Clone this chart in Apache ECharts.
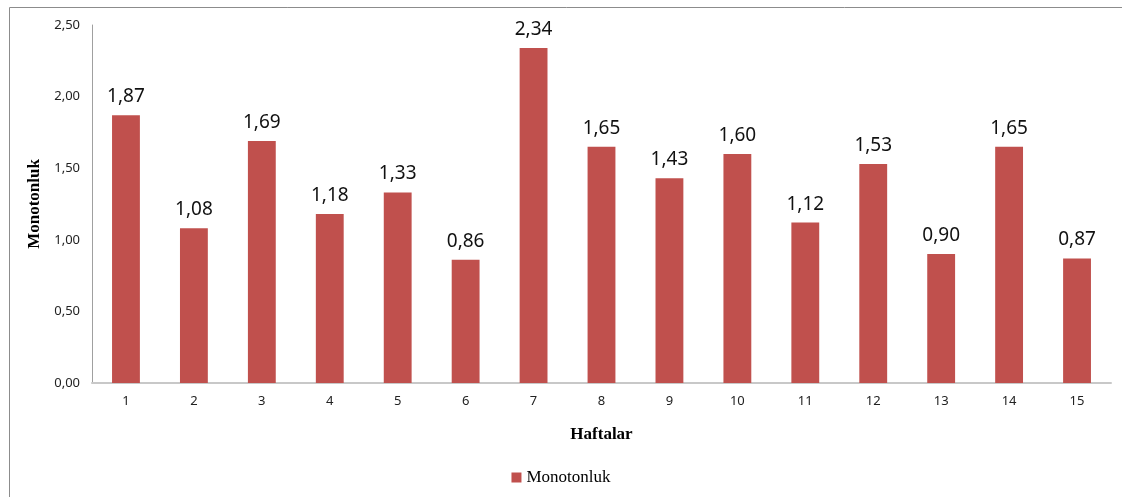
<!DOCTYPE html>
<html>
<head>
<meta charset="utf-8">
<script src="https://cdn.jsdelivr.net/npm/echarts@6/dist/echarts.min.js"></script>
<style>
  html, body { margin: 0; padding: 0; background: #fff; }
  #chart { width: 1122px; height: 497px; }
</style>
</head>
<body>
<div id="chart"></div>
<script>
// haftalar ve monotonluk degerleri
const weeks = ['1', '2', '3', '4', '5', '6', '7', '8', '9', '10', '11', '12', '13', '14', '15']
const monotonluk = [1.87, 1.08, 1.69, 1.18, 1.33, 0.86, 2.34, 1.65, 1.43, 1.60, 1.12, 1.53, 0.90, 1.65, 0.87]
const yTicks = [0, 0.5, 1, 1.5, 2, 2.5]

const fmt = v => v.toFixed(2).replace('.', ',')

let chart = echarts.init(document.getElementById('chart'))
let option = {
  animation: false,
  graphic: [{
    type: 'rect',
    shape: { x: 9.5, y: 7.5, width: 1300, height: 700 },
    style: { fill: 'none', stroke: '#8c8c8c', lineWidth: 1 }
  }],
  grid: { left: 92, right: 11, top: 25, bottom: 114 },
  legend: {
    bottom: 6,
    left: 'center',
    itemWidth: 10,
    itemHeight: 10,
    icon: 'rect',
    itemGap: 4,
    textStyle: { fontFamily: 'Liberation Serif', fontSize: 17, color: '#000' },
    data: ['Monotonluk']
  },
  xAxis: {
    type: 'category',
    data: weeks,
    name: 'Haftalar',
    nameLocation: 'middle',
    nameGap: 43,
    nameTextStyle: { fontFamily: 'Liberation Serif', fontWeight: 'bold', fontSize: 17, color: '#000' },
    axisLine: { lineStyle: { color: '#c8c8c8', width: 2 } },
    axisTick: { show: false },
    axisLabel: { color: '#222', fontSize: 13, margin: 12, fontFamily: 'Noto Sans' }
  },
  yAxis: {
    type: 'value',
    min: 0,
    max: 2.5,
    interval: 0.5,
    name: 'Monotonluk',
    nameLocation: 'middle',
    nameGap: 41,
    nameTextStyle: { fontFamily: 'Liberation Serif', fontWeight: 'bold', fontSize: 17, color: '#000' },
    axisLine: { show: true, lineStyle: { color: '#a0a0a0' } },
    axisTick: { show: false },
    splitLine: { show: false },
    axisLabel: { color: '#222', fontSize: 13, margin: 12, fontFamily: 'Noto Sans', formatter: v => fmt(v) }
  },
  series: [{
    name: 'Monotonluk',
    type: 'bar',
    data: monotonluk,
    barWidth: '41%',
    itemStyle: { color: '#c0504d' },
    label: {
      show: true,
      position: 'top',
      distance: 9,
      color: '#111',
      fontSize: 19,
      fontFamily: 'Noto Sans',
      formatter: p => fmt(p.value)
    }
  }]
}
chart.setOption(option)
</script>
</body>
</html>
